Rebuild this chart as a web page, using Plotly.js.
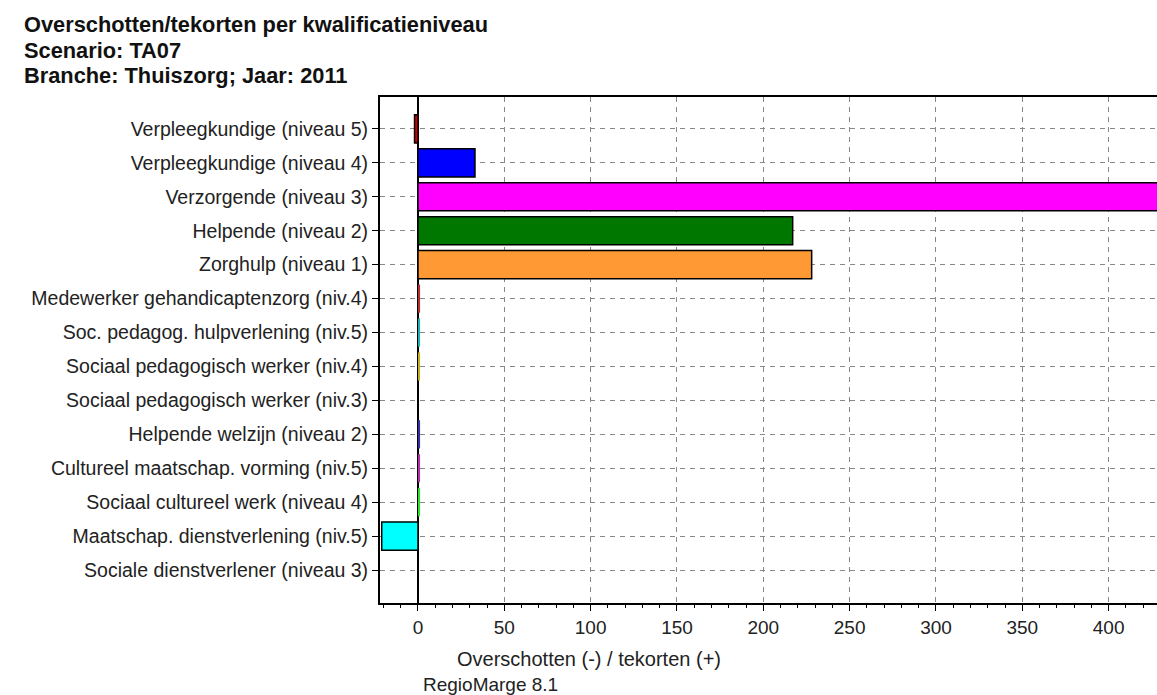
<!DOCTYPE html>
<html>
<head>
<meta charset="utf-8">
<script src="https://cdn.plot.ly/plotly-3.0.1.min.js"></script>
<style>html,body{margin:0;padding:0;background:#fff;}#chart{width:1157px;height:695px;}</style>
</head>
<body>
<div id="chart"></div>
<script>
const categories = [
  "Verpleegkundige (niveau 5)",
  "Verpleegkundige (niveau 4)",
  "Verzorgende (niveau 3)",
  "Helpende (niveau 2)",
  "Zorghulp (niveau 1)",
  "Medewerker gehandicaptenzorg (niv.4)",
  "Soc. pedagog. hulpverlening (niv.5)",
  "Sociaal pedagogisch werker (niv.4)",
  "Sociaal pedagogisch werker (niv.3)",
  "Helpende welzijn (niveau 2)",
  "Cultureel maatschap. vorming (niv.5)",
  "Sociaal cultureel werk (niveau 4)",
  "Maatschap. dienstverlening (niv.5)",
  "Sociale dienstverlener (niveau 3)"
];
const values = [-2, 33, 480, 217, 228, 1.2, 1.2, 1.2, 0, 1.2, 1.2, 1.2, -21, 0];
const barColors = ["#D00000", "#0000FF", "#FF00FF", "#007800", "#FF9933",
  "#B03030", "#20B0B0", "#C0B020", "#808080", "#3030A0", "#B030B0", "#30E030", "#00FFFF", "#808080"];
const outlineWidths = [1.5, 1.5, 1.5, 1.5, 1.5, 0, 0, 0, 0, 0, 0, 0, 1.5, 0];
const titleLines = [
  "Overschotten/tekorten per kwalificatieniveau",
  "Scenario: TA07",
  "Branche: Thuiszorg; Jaar: 2011"
];
const xTitle = "Overschotten (-) / tekorten (+)";
const footer = "RegioMarge 8.1";

const font = "Liberation Sans, Arial, sans-serif";
const PW = 777, PH = 506, ML = 380, MT = 97;
const px = x => (x - ML) / PW;
const py = y => 1 - (y - MT) / PH;

const trace = {
  type: "bar",
  orientation: "h",
  y: categories,
  x: values,
  width: 0.83,
  marker: { color: barColors, line: { color: "#000", width: outlineWidths } },
  hoverinfo: "x+y"
};

const annotations = titleLines.map((t, i) => ({
  text: "<b>" + t + "</b>",
  xref: "paper", yref: "paper",
  x: px(22), y: py(25 + i * 25),
  xanchor: "left", yanchor: "middle",
  showarrow: false,
  font: { family: font, size: 21.8, color: "#111" }
}));
annotations.push({
  text: xTitle, xref: "paper", yref: "paper",
  x: px(589), y: py(659), xanchor: "center", yanchor: "middle",
  showarrow: false, font: { family: font, size: 20, color: "#222" }
});
annotations.push({
  text: footer, xref: "paper", yref: "paper",
  x: px(421), y: py(684), xanchor: "left", yanchor: "middle",
  showarrow: false, font: { family: font, size: 19, color: "#222" }
});

const layout = {
  width: 1157, height: 695,
  margin: { l: ML, r: 0, t: MT, b: 92 },
  paper_bgcolor: "#fff", plot_bgcolor: "#fff",
  showlegend: false,
  font: { family: font, size: 19, color: "#222" },
  xaxis: {
    range: [-22, 428],
    dtick: 50, tick0: 0,
    ticks: "outside", ticklen: 6, tickcolor: "#000",
    showgrid: true, gridcolor: "#888", griddash: "5px,5px", gridwidth: 1,
    zeroline: true, zerolinecolor: "#000", zerolinewidth: 2.5,
    showline: true, linecolor: "#000", linewidth: 2, mirror: true,
    minor: { dtick: 10, ticks: "outside", ticklen: 3, tickcolor: "#000", showgrid: false },
    tickfont: { family: font, size: 19, color: "#222" }
  },
  yaxis: {
    type: "category",
    range: [13.97, -0.94],
    ticks: "outside", ticklen: 6, tickcolor: "#000",
    showgrid: true, gridcolor: "#888", griddash: "5px,5px", gridwidth: 1,
    showline: true, linecolor: "#000", linewidth: 2, mirror: true,
    tickfont: { family: font, size: 19.5, color: "#222" }
  },
  annotations: annotations
};

Plotly.newPlot("chart", [trace], layout, { staticPlot: true });
</script>
</body>
</html>
